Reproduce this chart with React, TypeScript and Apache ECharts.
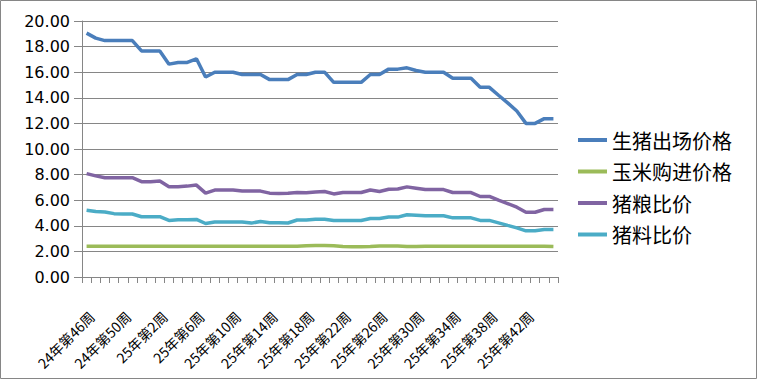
import React, { useEffect, useRef } from "react";
import * as echarts from "echarts";

const weeks = [
  "24年第46周", "24年第47周", "24年第48周", "24年第49周", "24年第50周", "24年第51周", "24年第52周",
  "25年第1周", "25年第2周", "25年第3周", "25年第4周", "25年第5周", "25年第6周", "25年第7周",
  "25年第8周", "25年第9周", "25年第10周", "25年第11周", "25年第12周", "25年第13周", "25年第14周",
  "25年第15周", "25年第16周", "25年第17周", "25年第18周", "25年第19周", "25年第20周", "25年第21周",
  "25年第22周", "25年第23周", "25年第24周", "25年第25周", "25年第26周", "25年第27周", "25年第28周",
  "25年第29周", "25年第30周", "25年第31周", "25年第32周", "25年第33周", "25年第34周", "25年第35周",
  "25年第36周", "25年第37周", "25年第38周", "25年第39周", "25年第40周", "25年第41周", "25年第42周",
  "25年第43周", "25年第44周", "25年第45周",
];

const hogPrice = [
  19.05, 18.66, 18.47, 18.47, 18.47, 18.47, 17.66, 17.66, 17.66, 16.63, 16.76, 16.76, 17.05,
  15.63, 16.0, 16.0, 16.0, 15.82, 15.82, 15.82, 15.42, 15.42, 15.42, 15.82, 15.82, 16.0, 16.0,
  15.21, 15.21, 15.21, 15.21, 15.82, 15.82, 16.24, 16.24, 16.34, 16.13, 16.0, 16.0, 16.0,
  15.53, 15.53, 15.53, 14.82, 14.82, 14.2, 13.6, 12.97, 12.0, 12.0, 12.37, 12.37,
];

const cornPrice = [
  2.40, 2.40, 2.41, 2.41, 2.41, 2.41, 2.40, 2.40, 2.40, 2.40, 2.40, 2.40, 2.41, 2.41,
  2.40, 2.40, 2.40, 2.40, 2.40, 2.40, 2.40, 2.40, 2.40, 2.40, 2.44, 2.46, 2.46, 2.44,
  2.38, 2.36, 2.36, 2.38, 2.42, 2.42, 2.42, 2.38, 2.38, 2.40, 2.40, 2.40, 2.40, 2.40,
  2.40, 2.41, 2.41, 2.41, 2.41, 2.41, 2.41, 2.41, 2.41, 2.39,
];

const hogGrainRatio = [
  8.08, 7.9, 7.76, 7.76, 7.76, 7.76, 7.45, 7.45, 7.5, 7.05, 7.05, 7.1, 7.18, 6.55,
  6.79, 6.79, 6.79, 6.71, 6.71, 6.71, 6.55, 6.53, 6.55, 6.6, 6.58, 6.64, 6.68, 6.49,
  6.6, 6.6, 6.6, 6.8, 6.68, 6.86, 6.88, 7.04, 6.94, 6.83, 6.83, 6.83, 6.6, 6.6, 6.6,
  6.29, 6.29, 6.0, 5.74, 5.45, 5.06, 5.06, 5.27, 5.27,
];

const hogFeedRatio = [
  5.21, 5.11, 5.08, 4.95, 4.92, 4.92, 4.71, 4.71, 4.71, 4.42, 4.47, 4.47, 4.5, 4.18,
  4.29, 4.29, 4.29, 4.29, 4.21, 4.34, 4.24, 4.24, 4.22, 4.45, 4.45, 4.52, 4.52, 4.42,
  4.42, 4.42, 4.42, 4.57, 4.57, 4.68, 4.68, 4.86, 4.83, 4.78, 4.78, 4.78, 4.62, 4.62,
  4.62, 4.42, 4.42, 4.23, 4.03, 3.84, 3.61, 3.61, 3.71, 3.71,
];

const seriesNames = ["生猪出场价格", "玉米购进价格", "猪粮比价", "猪料比价"];
const seriesColors = ["#4A7EBB", "#9BBB59", "#8064A2", "#4BACC6"];
const seriesData = [hogPrice, cornPrice, hogGrainRatio, hogFeedRatio];

export default function App() {
  const ref = useRef<HTMLDivElement>(null);

  useEffect(() => {
    if (!ref.current) return;
    const chart = echarts.init(ref.current, null, { renderer: "svg" });
    const gray = "#868686";
    chart.setOption({
      animation: false,
      backgroundColor: "#ffffff",
      graphic: [
        {
          type: "rect",
          shape: { x: 0.5, y: 0.5, width: 756, height: 378 },
          style: { fill: "none", stroke: gray, lineWidth: 1 },
          silent: true,
        },
      ],
      grid: {
        left: 82,
        right: 199,
        top: 21,
        bottom: 102,
        containLabel: false,
        outerBoundsMode: "none",
      },
      legend: {
        orient: "vertical",
        left: 573,
        top: 125,
        itemWidth: 29,
        itemHeight: 4,
        itemGap: 11.5,
        icon: "rect",
        data: seriesNames,
        textStyle: {
          fontFamily: "Noto Sans CJK SC",
          fontSize: 20,
          lineHeight: 20,
          color: "#000",
        },
      },
      xAxis: {
        type: "category",
        data: weeks,
        boundaryGap: true,
        axisLine: { show: true, lineStyle: { color: gray, width: 1 } },
        axisTick: { show: true, interval: 0, length: 6, inside: false, lineStyle: { color: gray } },
        axisLabel: {
          interval: 3,
          rotate: 45,
          align: "right",
          verticalAlign: "top",
          margin: 32,
          fontFamily: "Noto Sans CJK SC",
          fontSize: 14,
          color: "#000",
        },
        splitLine: { show: false },
      },
      yAxis: {
        type: "value",
        min: 0,
        max: 20,
        interval: 2,
        axisLine: { show: true, lineStyle: { color: gray, width: 1 } },
        axisTick: { show: true, length: 8, inside: false, lineStyle: { color: gray } },
        axisLabel: {
          margin: 12,
          fontFamily: "DejaVu Sans",
          fontSize: 16,
          color: "#000",
          formatter: (v: number) => v.toFixed(2),
        },
        splitLine: { show: true, lineStyle: { color: gray, width: 1 } },
      },
      series: seriesNames.map((name, i) => ({
        name,
        type: "line",
        data: seriesData[i],
        showSymbol: false,
        symbol: "none",
        lineStyle: { color: seriesColors[i], width: 3.5 },
        itemStyle: { color: seriesColors[i] },
        z: 10 - i,
      })),
    });
    return () => chart.dispose();
  }, []);

  return (
    <div
      ref={ref}
      style={{ position: "fixed", left: 0, top: 0, width: 757, height: 379 }}
    />
  );
}
